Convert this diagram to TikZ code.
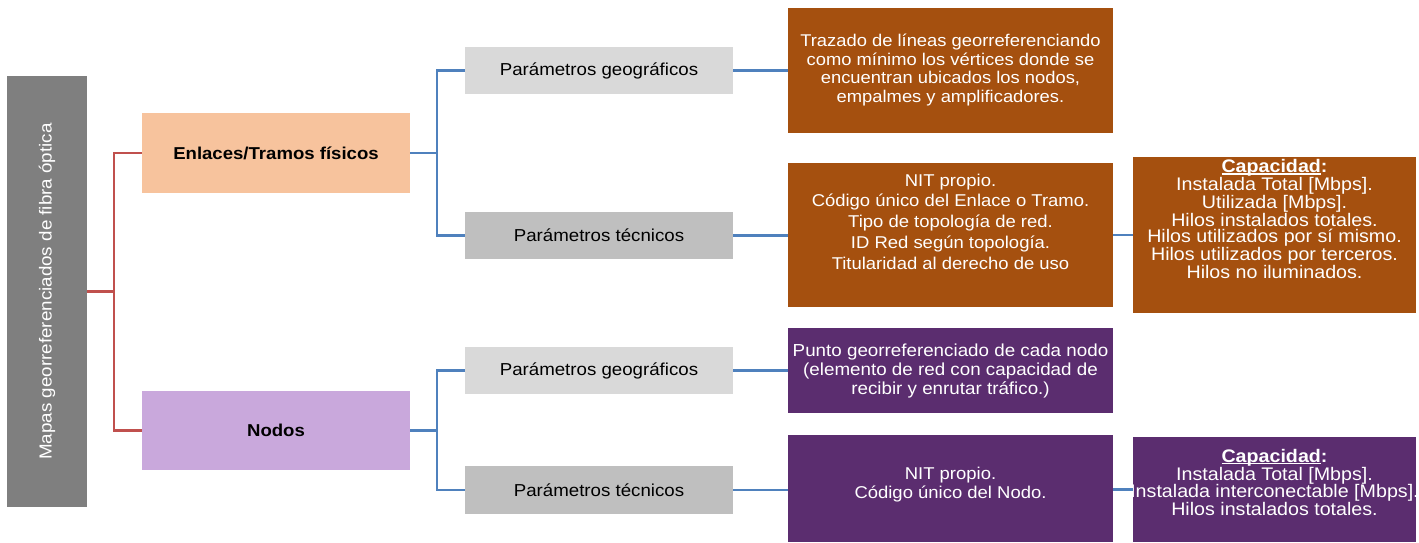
\documentclass[tikz,border=0pt]{standalone}
\usepackage{fontspec}
\setmainfont[FakeStretch=1.08]{Liberation Sans}
\definecolor{rootgray}{HTML}{7F7F7F}
\definecolor{peach}{HTML}{F7C39D}
\definecolor{lavender}{HTML}{C9A8DC}
\definecolor{geogray}{HTML}{D9D9D9}
\definecolor{tecgray}{HTML}{BFBFBF}
\definecolor{brownbox}{HTML}{A5500F}
\definecolor{purplebox}{HTML}{5B2D6F}
\definecolor{bluelinecol}{HTML}{4F81BD}
\definecolor{redlinecol}{HTML}{C0504D}
\newcommand\capul[1]{\leavevmode\setbox0\hbox{#1}\rlap{\rule[-2.4pt]{\wd0}{1.3pt}}\box0}
\tikzset{
  boxbase/.style={rectangle, inner sep=0pt, outer sep=0pt},
  rootbox/.style={boxbase, fill=rootgray, minimum width=80pt, minimum height=431pt, text=white},
  catbox/.style={boxbase, minimum width=268pt, text=black, font=\fontsize{17.2}{20}\selectfont\bfseries},
  parbox/.style={boxbase, minimum width=268pt, minimum height=47pt, text=black, font=\fontsize{17.3}{20}\selectfont},
  detbox/.style={boxbase, minimum width=325pt, text=white, align=center},
  capbox/.style={boxbase, minimum width=283pt, text=white, align=center},
  txt/.style={inner sep=0pt, text=white, align=center},
  redconn/.style={draw=redlinecol, line width=2.2pt},
  blueconn/.style={draw=bluelinecol, line width=2.2pt},
}
\begin{document}
\begin{tikzpicture}[x=1pt,y=-1pt]
\useasboundingbox (0,0) rectangle (1419,542);
% level 0
\node[rootbox] (root) at (47,291.5) {\rotatebox{90}{\fontsize{17.4}{20}\selectfont Mapas georreferenciados de fibra óptica}};
% level 1
\node[catbox, fill=peach, minimum height=80pt] (enl) at (276,153) {Enlaces/Tramos físicos};
\node[catbox, fill=lavender, minimum height=79pt] (nod) at (276,430.5) {Nodos};
% level 2
\node[parbox, fill=geogray] (geo1) at (599,70.5) {Parámetros geográficos};
\node[parbox, fill=tecgray] (tec1) at (599,235.5) {Parámetros técnicos};
\node[parbox, fill=geogray] (geo2) at (599,370.5) {Parámetros geográficos};
\node[parbox, fill=tecgray, minimum height=48pt] (tec2) at (599,490) {Parámetros técnicos};
% level 3
\node[detbox, fill=brownbox, minimum height=125pt] (br1) at (950.5,70.5) {};
\node[txt, font=\fontsize{17}{18.6}\selectfont] (br1t) at (950.5,70)
  {Trazado de líneas georreferenciando\\como mínimo los vértices donde se\\encuentran ubicados los nodos,\\empalmes y amplificadores.};
\node[detbox, fill=brownbox, minimum height=144pt] (br2) at (950.5,235) {};
\node[txt, font=\fontsize{17.1}{20.7}\selectfont] (br2t) at (950.5,221.5)
  {NIT propio.\\Código único del Enlace o Tramo.\\Tipo de topología de red.\\ID Red según topología.\\Titularidad al derecho de uso};
\node[detbox, fill=purplebox, minimum height=85pt] (pu1) at (950.5,370.5) {};
\node[txt, font=\fontsize{17.4}{19}\selectfont] (pu1t) at (950.5,371)
  {Punto georreferenciado de cada nodo\\(elemento de red con capacidad de\\recibir y enrutar tráfico.)};
\node[detbox, fill=purplebox, minimum height=107pt] (pu2) at (950.5,488.5) {};
\node[txt, font=\fontsize{17.1}{19}\selectfont] (pu2t) at (950.5,485)
  {NIT propio.\\Código único del Nodo.};
% level 4
\node[capbox, fill=brownbox, minimum height=156pt] (ca1) at (1274.5,235) {};
\node[txt, font=\fontsize{18.2}{16.8}\selectfont] (ca1t) at (1274.5,219)
  {\textbf{\capul{Capacidad}:}\\Instalada Total [Mbps].\\Utilizada [Mbps].\\Hilos instalados totales.\\Hilos utilizados por sí mismo.\\Hilos utilizados por terceros.\\Hilos no iluminados.};
\node[capbox, fill=purplebox, minimum height=105pt] (ca2) at (1274.5,489.5) {};
\node[txt, font=\fontsize{18.2}{16.7}\selectfont] (ca2t) at (1274.5,482.5)
  {\textbf{\capul{Capacidad}:}\\Instalada Total [Mbps].\\Instalada interconectable [Mbps].\\Hilos instalados totales.};
% junctions
\coordinate (rj) at (114,291.5);
\coordinate (bj1) at (437,153);
\coordinate (bj2) at (437,430.5);
% red connectors
\draw[redconn] (root.east) -- (rj);
\draw[redconn] (enl.west) -- (enl.west -| rj) -- (nod.west -| rj) -- (nod.west);
% blue connectors
\draw[blueconn] (enl.east) -- (bj1);
\draw[blueconn] (geo1.west) -- (geo1.west -| bj1) -- (tec1.west -| bj1) -- (tec1.west);
\draw[blueconn] (nod.east) -- (bj2);
\draw[blueconn] (geo2.west) -- (geo2.west -| bj2) -- (tec2.west -| bj2) -- (tec2.west);
\draw[blueconn] (geo1.east) -- (br1.west);
\draw[blueconn] (tec1.east) -- (tec1.east -| br2.west);
\draw[blueconn] (geo2.east) -- (pu1.west);
\draw[blueconn] (tec2.east) -- (tec2.east -| pu2.west);
\draw[blueconn] (br2.east) -- (ca1.west);
\draw[blueconn] (ca2.west -| pu2.east) -- (ca2.west);
\end{tikzpicture}
\end{document}
